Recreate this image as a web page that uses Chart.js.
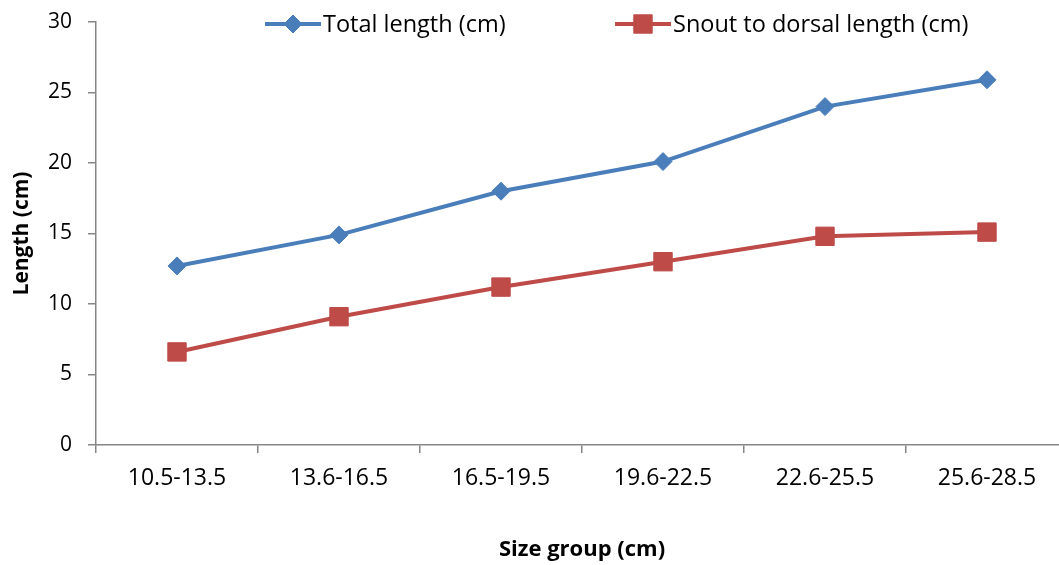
<!DOCTYPE html>
<html>
<head>
<meta charset="utf-8">
<script src="https://cdn.jsdelivr.net/npm/chart.js@4.4.0/dist/chart.umd.min.js"></script>
<style>
    html, body { margin: 0; padding: 0; background: #fff; overflow: hidden; }
    /* the plot runs a few pixels past the right edge of the picture */
    #wrap { width: 1068px; height: 565px; position: relative; }
</style>
</head>
<body>
<div id="wrap"><canvas id="chart"></canvas></div>
<script>
// Data
const sizeGroups = ['10.5-13.5', '13.6-16.5', '16.5-19.5', '19.6-22.5', '22.6-25.5', '25.6-28.5'];
const totalLength = [12.7, 14.9, 18.0, 20.1, 24.0, 25.9];
const snoutToDorsal = [6.6, 9.1, 11.2, 13.0, 14.8, 15.1];
const yTicks = [0, 5, 10, 15, 20, 25, 30];

const BLUE = '#4A7EBB';
const RED = '#BE4B48';
const AXIS = '#868686';
const FONT = "'Open Sans', 'Liberation Sans', sans-serif";

// Excel style legend: short line with the marker in the middle
const lineLegend = {
    id: 'lineLegend',
    afterDraw(chart) {
        const ctx = chart.ctx;
        const starts = [265, 615];
        const y = 24;
        ctx.save();
        chart.data.datasets.forEach((ds, i) => {
            const x = starts[i];
            ctx.strokeStyle = ds.borderColor;
            ctx.lineWidth = ds.borderWidth;
            ctx.beginPath();
            ctx.moveTo(x, y);
            ctx.lineTo(x + 56, y);
            ctx.stroke();
            ctx.fillStyle = ds.pointBackgroundColor;
            ctx.strokeStyle = ds.pointBorderColor;
            ctx.lineWidth = 1;
            Chart.helpers.drawPoint(ctx, {
                pointStyle: ds.pointStyle,
                radius: ds.pointRadius,
                borderWidth: 1,
                rotation: 0
            }, x + 28, y);
            ctx.fillStyle = '#000';
            ctx.font = '23.5px ' + FONT;
            ctx.textBaseline = 'middle';
            ctx.textAlign = 'left';
            ctx.fillText(ds.label, x + 58, y + 1);
        });
        ctx.restore();
    }
};

const ctx = document.getElementById('chart');

new Chart(ctx, {
    type: 'line',
    data: {
        labels: sizeGroups,
        datasets: [
            {
                label: 'Total length (cm)',
                data: totalLength,
                borderColor: BLUE,
                backgroundColor: BLUE,
                borderWidth: 4,
                pointStyle: 'rectRot',
                pointRadius: 9,
                pointBackgroundColor: BLUE,
                pointBorderColor: BLUE,
                pointBorderWidth: 1,
                tension: 0
            },
            {
                label: 'Snout to dorsal length (cm)',
                data: snoutToDorsal,
                borderColor: RED,
                backgroundColor: RED,
                borderWidth: 4,
                pointStyle: 'rect',
                pointRadius: 13,
                pointBackgroundColor: RED,
                pointBorderColor: RED,
                pointBorderWidth: 1,
                tension: 0
            }
        ]
    },
    options: {
        responsive: true,
        maintainAspectRatio: false,
        animation: false,
        layout: {
            autoPadding: false,
            padding: { top: 22, right: 0, left: 0, bottom: 0 }
        },
        plugins: {
            legend: { display: false },
            tooltip: { enabled: false }
        },
        scales: {
            x: {
                offset: true,
                grid: {
                    offset: true,
                    drawOnChartArea: false,
                    drawTicks: true,
                    tickLength: 8,
                    color: AXIS,
                    lineWidth: 1.5
                },
                border: { color: AXIS, width: 1.5 },
                ticks: {
                    color: '#000',
                    font: { family: FONT, size: 23 },
                    padding: 12,
                    maxRotation: 0
                },
                title: {
                    display: true,
                    text: 'Size group (cm)',
                    color: '#000',
                    font: { family: FONT, size: 22, weight: 'bold' },
                    padding: { top: 0, bottom: 2 }
                },
                afterFit(scale) {
                    scale.height = 120;
                    scale.paddingLeft = 0;
                    scale.paddingRight = 0;
                }
            },
            y: {
                min: yTicks[0],
                max: yTicks[yTicks.length - 1],
                afterBuildTicks(scale) {
                    scale.ticks = yTicks.map(v => ({ value: v }));
                },
                grid: {
                    drawOnChartArea: false,
                    drawTicks: true,
                    tickLength: 8,
                    color: AXIS,
                    lineWidth: 1.5
                },
                border: { color: AXIS, width: 1.5 },
                ticks: {
                    color: '#000',
                    font: { family: FONT, size: 21 },
                    padding: 16
                },
                title: {
                    display: true,
                    text: 'Length (cm)',
                    color: '#000',
                    font: { family: FONT, size: 21, weight: 'bold' },
                    padding: { top: 9, bottom: 0 }
                },
                afterFit(scale) {
                    scale.width = 96;
                    scale.paddingTop = 0;
                    scale.paddingBottom = 0;
                }
            }
        }
    },
    plugins: [lineLegend]
});
</script>
</body>
</html>
